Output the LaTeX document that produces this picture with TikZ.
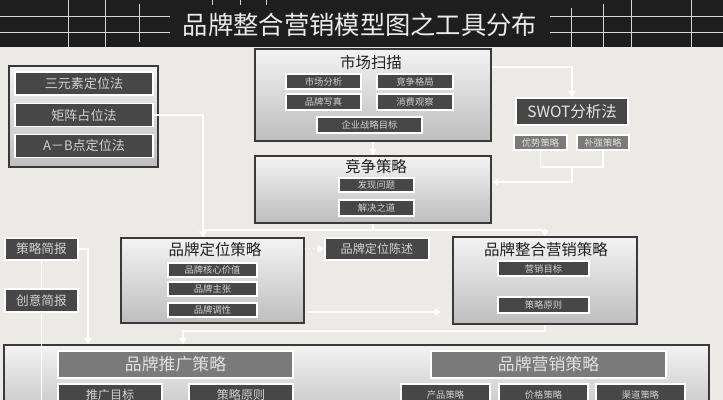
\documentclass[tikz,border=0pt]{standalone}
\usepackage{fontspec}
\setmainfont{Noto Sans CJK SC}
\usepackage{tikz}
\usetikzlibrary{arrows.meta,positioning,shadows}

\definecolor{bgc}{HTML}{ECEAE6}
\definecolor{barc}{HTML}{1E1E1E}
\definecolor{gridc}{HTML}{D6D6D6}
\definecolor{pnlline}{HTML}{3A3A3A}
\definecolor{pnltop}{HTML}{F3F3F3}
\definecolor{pnlbot}{HTML}{BEBEBE}
\definecolor{tagc}{HTML}{474747}
\definecolor{midc}{HTML}{7A7A7A}
\definecolor{tagtxt}{HTML}{D2D2D2}

\newlength\pxu
\setlength\pxu{0.025cm}
\newcommand\fsz[1]{\fontsize{#1}{#1}\selectfont}

\begin{document}
\begin{tikzpicture}[x=0.025cm,y=-0.025cm,
  sz/.style 2 args={minimum width=#1\pxu,minimum height=#2\pxu},
  pnl/.style={draw=pnlline,line width=.8pt,top color=pnltop,bottom color=pnlbot,inner sep=0,
    drop shadow={shadow xshift=1pt,shadow yshift=-1pt,opacity=.3}},
  tag/.style={draw=white,line width=1.1pt,fill=tagc,text=tagtxt,inner sep=0,font=\fsz{6.6}},
  mid/.style={tag,fill=midc,text=white!88!black},
  ttl/.style={inner sep=0,text=black!88,font=\fsz{11}},
  grid/.style={draw=gridc,line width=.7pt},
  ln/.style={draw=white,line width=1pt},
  lnk/.style={ln,-{Triangle[length=1.6mm,width=1.8mm]}},
  dotlnk/.style={lnk,dotted,line width=1.2pt}]
\useasboundingbox (0,0) rectangle (723,400);
\clip (0,0) rectangle (723,400);
\fill[bgc] (0,0) rectangle (723,400);

% title bar
\fill[barc] (0,0) rectangle (723,47);
\foreach \yy in {16.5,32.5} {
  \draw[grid] (0,\yy) -- (170,\yy);
  \draw[grid] (550,\yy) -- (723,\yy);
}
\foreach \xx/\ya/\yb in {68/0/47,105/0/47,139/4/42,212/0/5,240/0/5,266/0/5,571/8/47,603/4/47,631/0/47,691/0/47}
  \draw[grid] (\xx,\ya) -- (\xx,\yb);
\node[inner sep=0,text=white!92!black,font=\fsz{18}] (title) at (360,25) {品牌整合营销模型图之工具分布};

% positioning methods
\node[pnl,sz={149}{101}] (meth) at (83.5,116.5) {};
\node[tag,sz={138}{23},font=\fsz{9.3}] (tri) at (84,83.5) {三元素定位法};
\node[tag,sz={138}{23},font=\fsz{9.3}] (mat) at (84,115) {矩阵占位法};
\node[tag,sz={138}{23},font=\fsz{9.3}] (ab) at (84,146) {A－B点定位法};

% market scan
\node[pnl,sz={236}{92}] (scan) at (373,95) {};
\node[ttl] (scanT) at (371,63) {市场扫描};
\node[tag,sz={75}{15}] (mkt) at (323.5,81.5) {市场分析};
\node[tag,sz={76}{15}] (cmp) at (415,81.5) {竞争格局};
\node[tag,sz={75}{16}] (img) at (323.5,102) {品牌写真};
\node[tag,sz={76}{16}] (csm) at (415,102) {消费观察};
\node[tag,sz={105}{16}] (goal) at (369.5,125) {企业战略目标};

% swot
\node[tag,sz={112}{27},font=\fsz{11},text=white!90!black] (swot) at (572,111.5) {SWOT分析法};
\node[mid,sz={53}{15}] (adv) at (540.5,142.5) {优势策略};
\node[mid,sz={52}{15}] (fix) at (603,142.5) {补强策略};

% competition
\node[pnl,sz={236}{67}] (comp) at (373,189.5) {};
\node[ttl] (compT) at (376,167) {竞争策略};
\node[tag,sz={75}{14}] (find) at (376.5,185) {发现问题};
\node[tag,sz={75}{16}] (solve) at (376.5,208) {解决之道};

% brand positioning
\node[pnl,sz={183}{85}] (pos) at (212.5,280.5) {};
\node[ttl] (posT) at (215,250) {品牌定位策略};
\node[tag,sz={89}{14}] (core) at (212.5,270) {品牌核心价值};
\node[tag,sz={89}{14}] (claim) at (212.5,289) {品牌主张};
\node[tag,sz={89}{14}] (tone) at (212.5,310) {品牌调性};
\node[tag,sz={104}{22},font=\fsz{8.6}] (stmt) at (377,249) {品牌定位陈述};

% integrated marketing
\node[pnl,sz={184}{87}] (intg) at (545,280.5) {};
\node[ttl] (intgT) at (546,250) {品牌整合营销策略};
\node[tag,sz={91}{15}] (aim) at (543.5,268.5) {营销目标};
\node[tag,sz={91}{16}] (rule) at (543.5,305) {策略原则};

% briefs
\node[tag,sz={73}{22},font=\fsz{9}] (brief) at (41.5,249) {策略简报};
\node[tag,sz={73}{23},font=\fsz{9}] (idea) at (41.5,300.5) {创意简报};

% bottom
\node[pnl,sz={705}{80}] (bot) at (356.5,385) {};
\node[mid,sz={235}{27},font=\fsz{12}] (promo) at (175.5,364.5) {品牌推广策略};
\node[tag,sz={104}{22},font=\fsz{8.6}] (pgoal) at (110,395) {推广目标};
\node[tag,sz={104}{22},font=\fsz{8.6}] (prule) at (241,395) {策略原则};
\node[mid,sz={235}{27},font=\fsz{12}] (mktg) at (548.5,364.5) {品牌营销策略};
\node[tag,sz={89}{22}] (prod) at (445.5,395) {产品策略};
\node[tag,sz={89}{22}] (price) at (543.5,395) {价格策略};
\node[tag,sz={89}{22}] (chan) at (640.5,395) {渠道策略};

% connectors
\coordinate (j1) at (203,230);
\coordinate (s1) at (492,67);
\coordinate (b1) at (572,167);
\coordinate (b2) at (492,182);
\coordinate (p1) at (308,312);
\coordinate (j2) at (183,331);
\coordinate (j3) at (88,262);
\coordinate (e1) at (41.5,410);
\draw[lnk] (mat.east) -| (j1) -- (j1 |- pos.north);
\draw[lnk] (scan.south) -- (comp.north);
\draw[lnk] (s1) -| (swot.north);
\draw[ln] (adv.south) |- (b1) -| (fix.south);
\draw[lnk] (b1) |- (b2);
\draw[ln] (comp.south) -- (comp.south |- j1);
\draw[lnk] (j1) -| (intg.north);
\draw[dotlnk] (pos.east |- stmt) -- (stmt.west);
\draw[lnk,shorten >=8pt] (p1) -- (intg.west |- p1);
\draw[lnk] (intg.south) |- (j2) -- (j2 |- bot.north);
\draw[lnk] (brief.east) -| (j3) -- (j3 |- bot.north);
\draw[ln] (brief.south) -- (idea.north);
\draw[ln] (idea.south) -- (e1);
\end{tikzpicture}
\end{document}
